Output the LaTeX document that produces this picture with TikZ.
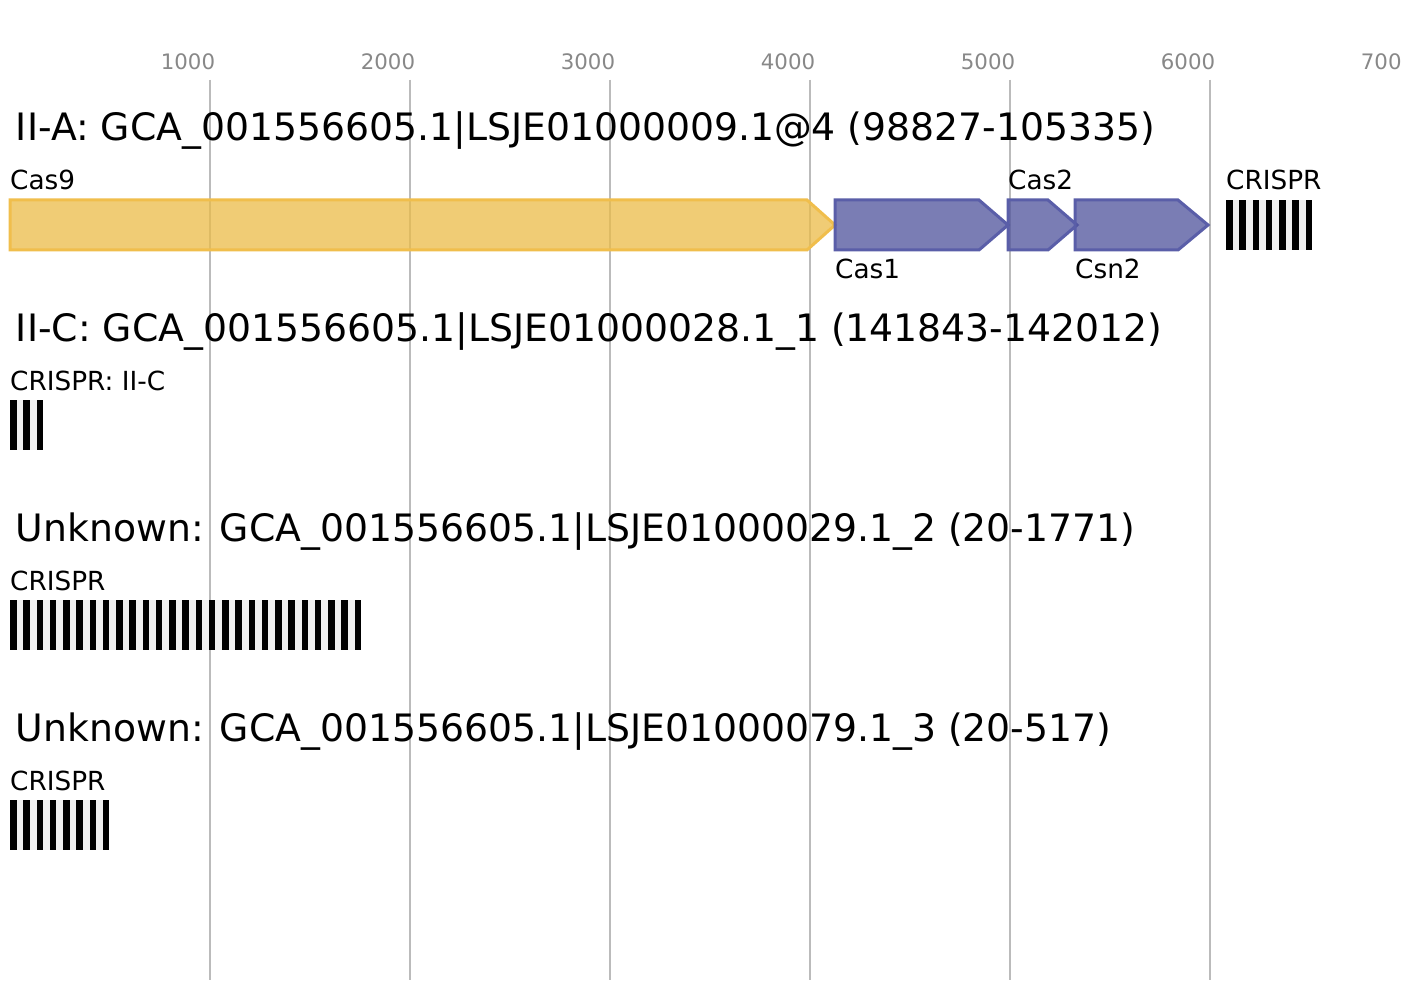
\documentclass[tikz,border=0pt]{standalone}
\usepackage{fontspec}
\setmainfont{DejaVu Sans}
\definecolor{gridc}{HTML}{BBBBBB}
\definecolor{axisc}{HTML}{888888}
\definecolor{yelfill}{HTML}{EBBC48}
\definecolor{yelline}{HTML}{F0BE4C}
\definecolor{purfill}{HTML}{4E529C}
\definecolor{purline}{HTML}{5A5EA8}
\definecolor{crbg}{HTML}{EFEFEF}
\tikzset{
  gridline/.style={draw=gridc, line width=1.6pt},
  axislbl/.style={anchor=base, inner sep=0pt, text=axisc, font=\fontsize{21.3}{23}\selectfont},
  ttl/.style={anchor=base west, inner sep=0pt, font=\fontsize{37.75}{40}\selectfont},
  lbl/.style={anchor=base west, inner sep=0pt, font=\fontsize{26.3}{28}\selectfont},
  yelgene/.style={draw=yelline, fill=yelfill, fill opacity=0.75, line width=3pt, line join=miter},
  purgene/.style={draw=purline, fill=purfill, fill opacity=0.75, line width=3pt, line join=miter},
  crisprbg/.style={fill=crbg},
  crisprbar/.style={fill=black},
}
% gene arrow: style, start x, end x, head length, top y
\newcommand\genearrow[5]{%
  \draw[#1] (#2,#5) -- ({#3-#4},#5) -- (#3,{#5+25}) -- ({#3-#4},{#5+50}) -- (#2,{#5+50}) -- cycle;}
% crispr array: start x, top y, number of repeats
\newcommand\crisprarray[3]{%
  \fill[crisprbg] (#1,#2) rectangle ({#1+(#3-1)*13.25+6.6},{#2+50});
  \foreach \i in {1,...,#3}{\fill[crisprbar] ({#1+(\i-1)*13.25},#2) rectangle ++(6.6,50);}}
\begin{document}
\begin{tikzpicture}[x=1pt,y=-1pt]
\useasboundingbox (0,0) rectangle (1402,1000);
\clip (0,0) rectangle (1402,1000);
\fill[white] (0,0) rectangle (1402,1000);
% grid
\foreach \k in {1,...,6}{\draw[gridline] ({10+200*\k},80) -- ({10+200*\k},980);}
% axis labels
\foreach \k in {1,...,7}{\node[axislbl] (ax\k) at ({10+200*\k-22},69.5) {\k000};}
% row 1
\node[ttl] (t1) at (15.8,141) {II-A: GCA\_001556605.1|LSJE01000009.1@4 (98827-105335)};
\genearrow{yelgene}{10}{835}{28}{200}
\genearrow{purgene}{835}{1008}{29}{200}
\genearrow{purgene}{1008}{1077}{29}{200}
\genearrow{purgene}{1075}{1208}{30}{200}
\crisprarray{1226}{200}{7}
\node[lbl] (lcas9) at (10,190) {Cas9};
\node[lbl] (lcas1) at (835,279) {Cas1};
\node[lbl] (lcas2) at (1008,190) {Cas2};
\node[lbl] (lcsn2) at (1075,279) {Csn2};
\node[lbl] (lcr1) at (1226,190) {CRISPR};
% row 2
\node[ttl] (t2) at (15.8,341) {II-C: GCA\_001556605.1|LSJE01000028.1\_1 (141843-142012)};
\crisprarray{10}{400}{3}
\node[lbl] (lcr2) at (10,390) {CRISPR: II-C};
% row 3
\node[ttl] (t3) at (15.8,541) {Unknown: GCA\_001556605.1|LSJE01000029.1\_2 (20-1771)};
\crisprarray{10}{600}{27}
\node[lbl] (lcr3) at (10,590) {CRISPR};
% row 4
\node[ttl] (t4) at (15.8,741) {Unknown: GCA\_001556605.1|LSJE01000079.1\_3 (20-517)};
\crisprarray{10}{800}{8}
\node[lbl] (lcr4) at (10,790) {CRISPR};
\end{tikzpicture}
\end{document}
